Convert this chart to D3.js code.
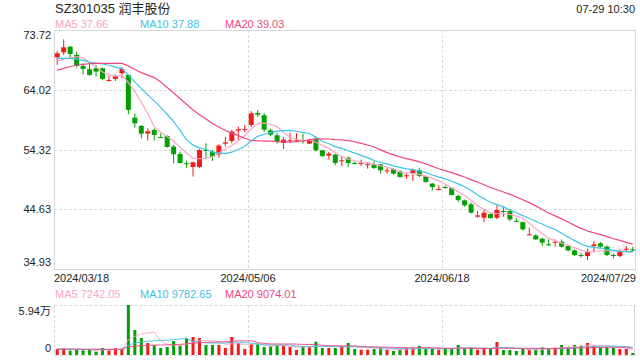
<!DOCTYPE html>
<html><head><meta charset="utf-8">
<script src="https://cdn.jsdelivr.net/npm/d3@7"></script>
<style>body{margin:0;background:#fff}svg{display:block}text{font-family:Arial,"Liberation Sans","Noto Sans CJK SC",sans-serif}</style>
</head><body><svg id="c" width="640" height="360"></svg>
<script>
const title = "SZ301035 润丰股份";
const stamp = "07-29 10:30";
const dates = [
"2024/03/18","2024/03/19","2024/03/20","2024/03/21","2024/03/22","2024/03/25","2024/03/26","2024/03/27","2024/03/28","2024/03/29",
"2024/04/01","2024/04/02","2024/04/03","2024/04/08","2024/04/09","2024/04/10","2024/04/11","2024/04/12","2024/04/15","2024/04/16",
"2024/04/17","2024/04/18","2024/04/19","2024/04/22","2024/04/23","2024/04/24","2024/04/25","2024/04/26","2024/04/29","2024/04/30",
"2024/05/06","2024/05/07","2024/05/08","2024/05/09","2024/05/10","2024/05/13","2024/05/14","2024/05/15","2024/05/16","2024/05/17",
"2024/05/20","2024/05/21","2024/05/22","2024/05/23","2024/05/24","2024/05/27","2024/05/28","2024/05/29","2024/05/30","2024/05/31",
"2024/06/03","2024/06/04","2024/06/05","2024/06/06","2024/06/07","2024/06/11","2024/06/12","2024/06/13","2024/06/14","2024/06/17",
"2024/06/18","2024/06/19","2024/06/20","2024/06/21","2024/06/24","2024/06/25","2024/06/26","2024/06/27","2024/06/28","2024/07/01",
"2024/07/02","2024/07/03","2024/07/04","2024/07/05","2024/07/08","2024/07/09","2024/07/10","2024/07/11","2024/07/12","2024/07/15",
"2024/07/16","2024/07/17","2024/07/18","2024/07/19","2024/07/22","2024/07/23","2024/07/24","2024/07/25","2024/07/26","2024/07/29"];
const open = [69.29,70.10,71.02,69.67,67.89,67.35,67.51,67.51,65.45,65.78,
66.70,66.43,59.50,58.15,56.90,57.50,56.36,56.53,54.79,53.60,
52.09,51.49,51.49,54.25,53.98,53.55,55.28,55.71,57.39,57.55,
58.30,60.25,59.88,57.44,56.63,55.39,55.66,55.71,55.82,55.28,
56.09,54.19,53.33,53.49,52.46,53.00,52.14,52.03,51.76,51.92,
51.92,50.84,51.11,50.79,50.08,50.41,50.95,49.98,48.78,47.81,
48.23,48.12,46.77,46.07,45.42,43.42,43.25,43.85,43.25,44.34,
44.34,42.71,42.55,40.44,40.39,39.85,38.93,39.25,39.36,38.66,
37.95,37.20,37.03,38.66,39.09,38.55,37.20,37.03,38.12,38.12];
const high = [70.32,72.21,71.10,70.21,68.32,68.32,68.05,67.60,66.26,66.53,
67.72,66.50,60.20,58.31,57.77,57.77,56.96,56.60,55.07,53.98,
52.52,52.36,54.36,55.34,54.25,55.17,56.36,57.50,58.04,58.31,
60.58,60.69,60.25,57.71,57.01,56.36,57.01,57.01,56.90,56.09,
56.47,54.25,53.92,53.65,53.11,53.22,52.36,52.68,52.30,52.41,
51.98,51.33,51.33,50.95,50.52,51.22,51.38,50.08,48.89,48.51,
48.50,48.15,47.04,46.23,45.69,44.34,44.61,43.96,45.26,44.99,
44.61,43.25,42.61,41.63,40.55,40.01,39.74,39.74,39.74,38.82,
38.12,37.57,38.22,39.47,39.30,38.76,37.41,38.12,38.66,38.55];
const low = [68.05,69.67,69.13,67.62,66.53,66.32,66.16,65.56,65.34,65.45,
65.88,60.04,57.88,56.15,55.77,55.77,56.20,54.63,52.09,52.04,
51.28,49.93,51.28,52.74,52.47,53.01,54.79,55.34,55.88,57.12,
57.98,59.61,57.17,56.47,55.28,54.41,55.39,55.55,55.28,55.17,
54.03,53.11,52.68,51.76,51.60,51.49,51.92,51.60,51.22,51.17,
50.41,50.41,50.24,49.76,49.60,49.22,49.87,48.95,47.70,47.70,
47.96,46.88,45.80,45.04,43.90,43.25,42.55,43.09,42.98,43.42,
42.71,42.55,41.20,40.39,39.63,38.66,38.66,38.55,38.39,37.79,
37.03,36.76,36.38,37.68,38.39,37.03,36.65,36.87,37.85,37.68];
const close = [69.94,70.91,69.83,67.89,67.40,66.43,66.97,65.78,65.61,66.26,
67.40,60.75,58.58,56.90,57.28,56.69,56.26,54.74,53.55,52.14,
51.93,52.25,54.25,54.09,53.17,54.96,55.50,57.23,57.61,57.66,
60.20,59.98,57.55,56.74,55.55,55.93,55.82,55.82,55.71,55.93,
54.19,53.28,53.65,52.14,52.57,52.14,52.03,52.14,51.92,51.33,
50.95,50.95,50.41,49.87,50.14,50.95,50.03,49.06,48.24,47.92,
48.12,46.93,46.12,45.26,44.07,43.63,44.07,43.20,44.50,44.23,
42.98,42.61,41.36,40.55,39.74,39.20,38.82,39.36,38.55,37.95,
37.20,37.09,37.68,38.93,38.55,37.20,37.09,37.68,38.22,37.95];
const volume = [7128,8316,5148,6732,5544,5940,3960,8316,5544,8316,
7524,59400,29700,20196,14256,11484,8316,9504,16632,11088,
19404,21384,20196,11880,11880,11880,8316,21384,14256,7128,
12672,12672,9504,10296,11484,11088,9504,5940,10296,9504,
15840,8316,8316,8316,9900,14256,7128,6336,6336,7128,
8712,6336,4752,6336,8712,8712,10692,7128,7128,6336,
7920,7920,11880,7524,8712,6336,7920,7128,15444,5940,
5940,4752,7524,6336,6336,9108,7128,8712,11880,9504,
11880,11088,14256,11088,9504,9504,8316,7128,7128,2376];
// moving-average values for the first days (their windows begin before 03/18)
const ma5Head = [68.6,69.0,69.2,69.4];
const ma10Head = [69.1,69.1,69.1,69.0,68.8,68.5,68.35,68.2,68.0];
const ma20Head = [67.2,67.5,67.8,68.0,68.15,68.25,68.3,68.3,68.3,68.3,68.3,67.9,67.3,66.8,66.4,66.0,65.3,64.4,63.5];
const vma5Head = [7000,7000,6900,6800];
const vma10Head = [6900,6900,6900,6800,6800,6700,6700,6700,6600];
const vma20Head = [6900,6900,6900,6900,6900,6800,6800,6800,6800,6800,6800,9400,10500,11200,11600,11800,11900,12000,12400];
const priceTicks = ["73.72","64.02","54.32","44.63","34.93"];
const volTicks = ["5.94万","0"];
const volMax = 59400;
const xTickLabels = ["2024/03/18","2024/05/06","2024/06/18","2024/07/29"];
const priceLegend = ["MA5 37.66","MA10 37.88","MA20 39.03"];
const volLegend = ["MA5 7242.05","MA10 9782.65","MA20 9074.01"];

const UP="#f21b1b", DOWN="#00a000";
const maColors = ["#fba4c4","#3ec3e6","#ee4780"];
const L=54,R=636,PT=30,PB=269,VT=305,VB=355;
const svg = d3.select("#c");
const x = d3.scaleBand().domain(dates).range([L,R]);
const step = x.bandwidth();
const cx = d => x(d)+step/2;
const y = d3.scaleLinear().domain([+priceTicks[4], +priceTicks[0]]).range([PB,PT]);
const yv = d3.scaleLinear().domain([0, volMax]).range([VB,VT]);

function ma(vals,n,head){return vals.map((v,i)=> i<n-1 ? head[i] : d3.mean(vals.slice(i-n+1,i+1)));}

// header
svg.append("text").attr("x",55).attr("y",13).attr("font-size",13).attr("fill","#222").text(title);
svg.append("text").attr("x",635).attr("y",13).attr("font-size",11).attr("text-anchor","end").attr("fill","#222").text(stamp);
const legX=[55,140,225];
priceLegend.forEach((t,i)=>svg.append("text").attr("x",legX[i]).attr("y",28).attr("font-size",11).attr("fill",maColors[i]).text(t));
volLegend.forEach((t,i)=>svg.append("text").attr("x",legX[i]).attr("y",298).attr("font-size",11).attr("fill",maColors[i]).text(t));

const grid = svg.append("g").attr("stroke","#d9d9d9").attr("stroke-width",1).attr("stroke-dasharray","3,2");
// price gridlines
const tickVals = priceTicks.map(Number);
tickVals.slice(1,4).forEach(v=>grid.append("line").attr("x1",L).attr("x2",R).attr("y1",Math.round(y(v))+0.5).attr("y2",Math.round(y(v))+0.5));
const vx = xTickLabels.slice(1,3).map(d=>Math.round(x(d))+0.5);
vx.forEach(p=>{grid.append("line").attr("x1",p).attr("x2",p).attr("y1",PT).attr("y2",PB);
  grid.append("line").attr("x1",p).attr("x2",p).attr("y1",VT).attr("y2",VB);});
// volume frame (dotted top/bottom/left)
grid.append("line").attr("x1",L+0.5).attr("x2",R).attr("y1",VT+0.5).attr("y2",VT+0.5);
grid.append("line").attr("x1",L+0.5).attr("x2",R).attr("y1",VB+0.5).attr("y2",VB+0.5);
grid.append("line").attr("x1",L+0.5).attr("x2",L+0.5).attr("y1",VT).attr("y2",VB);
svg.append("line").attr("x1",R-1.5).attr("x2",R-1.5).attr("y1",VT).attr("y2",VB+1).attr("stroke","#d6d6d6");
// price frame
svg.append("rect").attr("x",L+0.5).attr("y",PT+0.5).attr("width",R-L-1).attr("height",PB-PT).attr("fill","none").attr("stroke","#d6d6d6");

// y labels
tickVals.forEach((v,i)=>{
  let yy = y(v)+4; if(i===0) yy=PT+9; if(i===4) yy=PB-3;
  svg.append("text").attr("x",51).attr("y",yy).attr("font-size",11).attr("text-anchor","end").attr("fill","#222").text(priceTicks[i]);
});
svg.append("text").attr("x",51).attr("y",VT+10).attr("font-size",11).attr("text-anchor","end").attr("fill","#222").text(volTicks[0]);
svg.append("text").attr("x",51).attr("y",VB-3).attr("font-size",11).attr("text-anchor","end").attr("fill","#222").text(volTicks[1]);
// x labels
xTickLabels.forEach((d,i)=>{
  const last=i===xTickLabels.length-1;
  svg.append("text").attr("x", i===0?L:(last?R:x(d))).attr("y",282).attr("font-size",11)
   .attr("text-anchor", i===0?"start":(last?"end":"middle")).attr("fill","#222").text(d);
});

// watermark
svg.append("text").attr("x",606).attr("y",254).attr("font-size",10).attr("text-anchor","middle").attr("fill","#bbb").attr("opacity",0.35).text("新浪财经");

// candles
const bw=5;
const cg = svg.append("g");
dates.forEach((d,i)=>{
  const up = close[i]>=open[i]; const col = up?UP:DOWN;
  const xc = cx(d);
  cg.append("line").attr("x1",xc).attr("x2",xc).attr("y1",y(high[i])).attr("y2",y(low[i])).attr("stroke",col).attr("stroke-width",1);
  const t = y(Math.max(open[i],close[i])), b = y(Math.min(open[i],close[i]));
  cg.append("rect").attr("x",xc-bw/2).attr("y",t).attr("width",bw).attr("height",Math.max(1,b-t)).attr("fill",col);
  // volume
  cg.append("rect").attr("x",xc-1.5).attr("y",yv(volume[i])).attr("width",3).attr("height",VB-yv(volume[i])).attr("fill",col);
});

// MA lines
const pm = [ma(close,5,ma5Head),ma(close,10,ma10Head),ma(close,20,ma20Head)];
const vm = [ma(volume,5,vma5Head),ma(volume,10,vma10Head),ma(volume,20,vma20Head)];
const lp = d3.line().x((v,i)=>cx(dates[i])).y(v=>y(v));
const lv = d3.line().x((v,i)=>cx(dates[i])).y(v=>yv(v));
pm.forEach((s,k)=>svg.append("path").attr("d",lp(s)).attr("fill","none").attr("stroke",maColors[k]).attr("stroke-width",1.2));
vm.forEach((s,k)=>svg.append("path").attr("d",lv(s)).attr("fill","none").attr("stroke",maColors[k]).attr("stroke-width",1).attr("opacity",0.9));
</script></body></html>
